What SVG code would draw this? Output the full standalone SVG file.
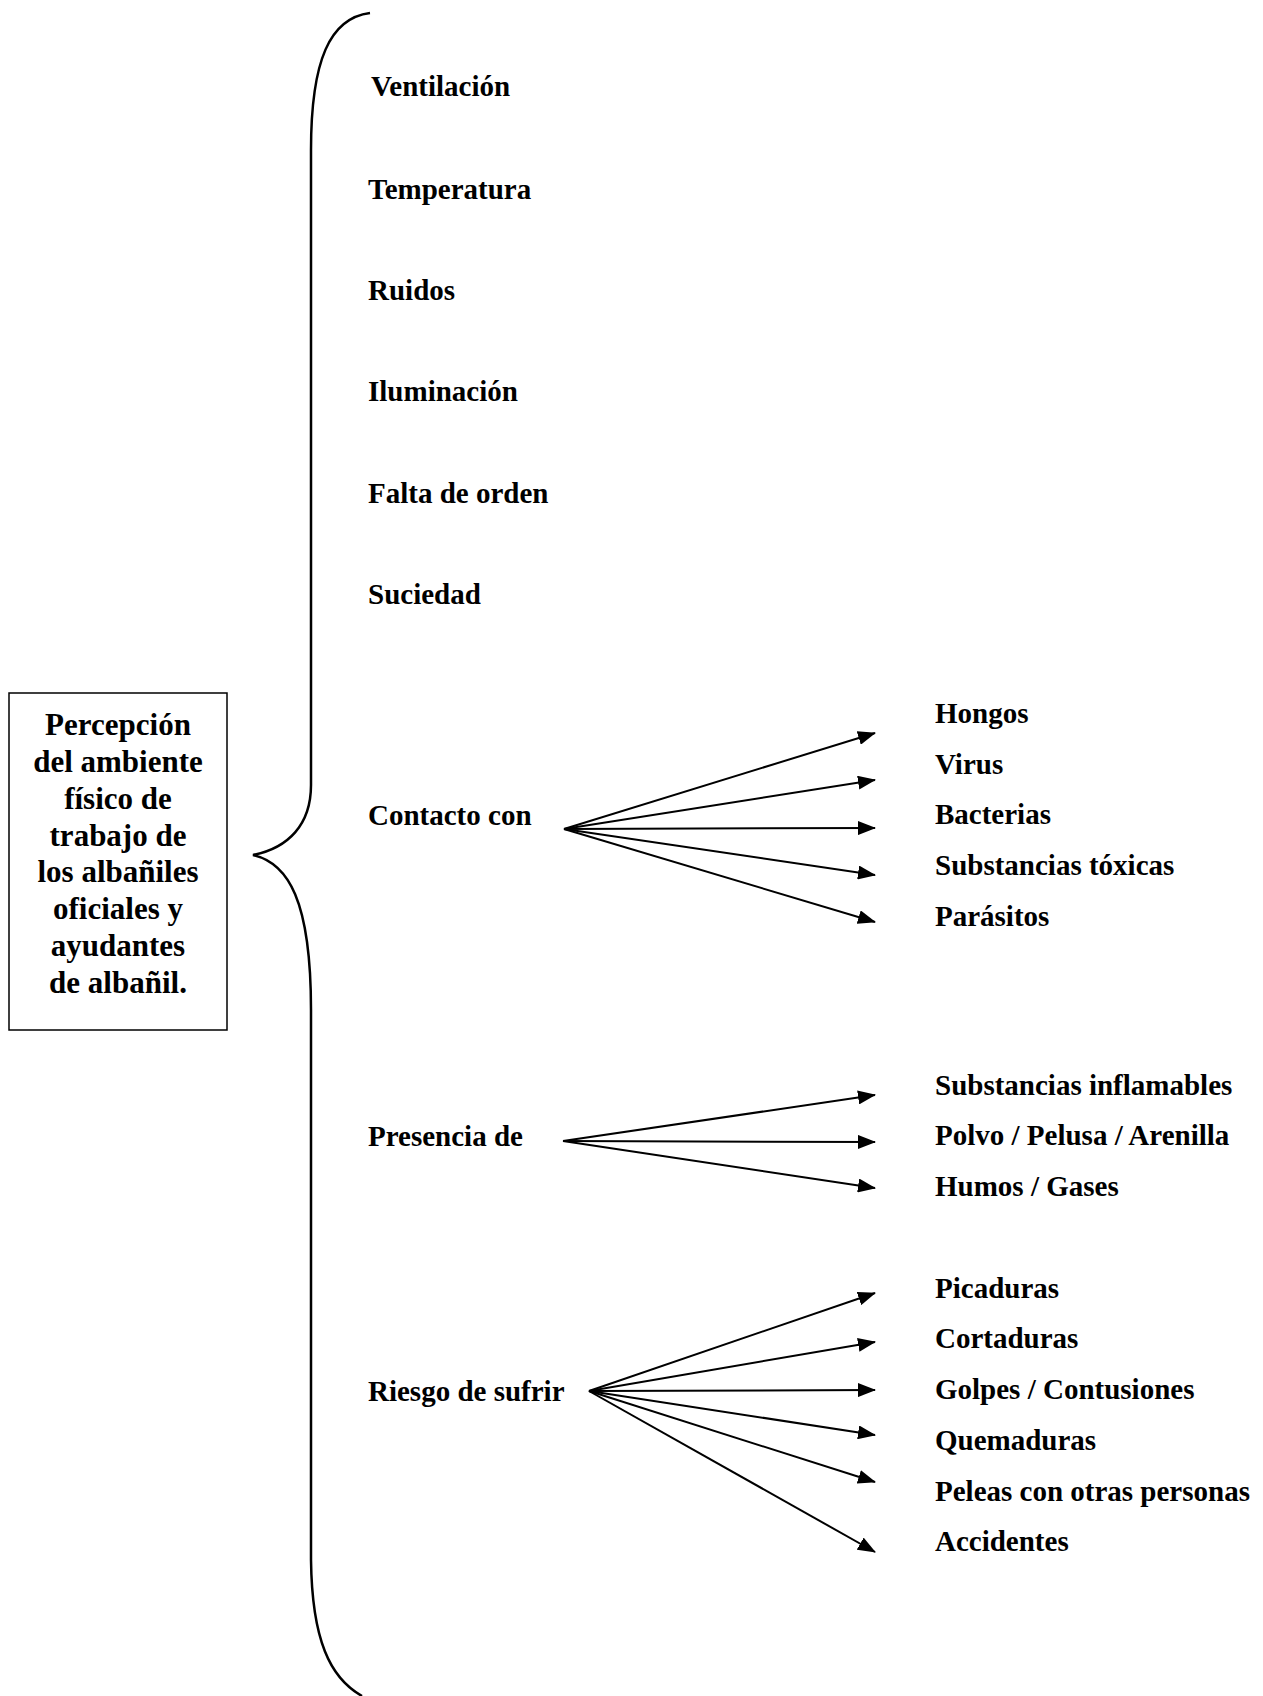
<svg xmlns="http://www.w3.org/2000/svg" width="1263" height="1696" viewBox="0 0 1263 1696">
<style>
text{font-family:"Liberation Serif","Times New Roman",serif;font-weight:bold;fill:#000}
.lbl{font-size:29px}
.box{font-size:31px;text-anchor:middle}
.conn{stroke:#000;stroke-width:2;fill:none}
.brace{stroke:#000;stroke-width:2.5;fill:none}
</style>
<defs>
<marker id="ah" markerUnits="userSpaceOnUse" markerWidth="18" markerHeight="14" refX="17" refY="7" orient="auto">
<path d="M0,0 L18,7 L0,14 Z" fill="#000"/>
</marker>
</defs>
<rect width="1263" height="1696" fill="#fff"/>
<g id="root">
<rect x="9" y="693" width="218" height="337" fill="#fff" stroke="#000" stroke-width="1.5"/>
<text class="box" x="118" y="735">Percepción</text>
<text class="box" x="118" y="772">del ambiente</text>
<text class="box" x="118" y="809">físico de</text>
<text class="box" x="118" y="846">trabajo de</text>
<text class="box" x="118" y="882">los albañiles</text>
<text class="box" x="118" y="919">oficiales y</text>
<text class="box" x="118" y="956">ayudantes</text>
<text class="box" x="118" y="993">de albañil.</text>
</g>
<g id="brace">
<path class="brace" d="M370,13 C330,18 311,60 311,150 L311,785 C311,825 288,848 253,855 C288,863 311,900 311,1010 L311,1560 C312,1640 330,1678 362,1696"/>
</g>
<g id="n-ventilacion"><text class="lbl" x="371" y="96">Ventilación</text></g>
<g id="n-temperatura"><text class="lbl" x="368" y="199">Temperatura</text></g>
<g id="n-ruidos"><text class="lbl" x="368" y="300">Ruidos</text></g>
<g id="n-iluminacion"><text class="lbl" x="368" y="401">Iluminación</text></g>
<g id="n-falta"><text class="lbl" x="368" y="503">Falta de orden</text></g>
<g id="n-suciedad"><text class="lbl" x="368" y="604">Suciedad</text></g>
<g id="n-contacto"><text class="lbl" x="368" y="825">Contacto con</text></g>
<g id="n-presencia"><text class="lbl" x="368" y="1146">Presencia de</text></g>
<g id="n-riesgo"><text class="lbl" x="368" y="1401">Riesgo de sufrir</text></g>
<g id="n-hongos"><text class="lbl" x="935" y="723">Hongos</text></g>
<g id="n-virus"><text class="lbl" x="935" y="774">Virus</text></g>
<g id="n-bacterias"><text class="lbl" x="935" y="824">Bacterias</text></g>
<g id="n-toxicas"><text class="lbl" x="935" y="875">Substancias tóxicas</text></g>
<g id="n-parasitos"><text class="lbl" x="935" y="926">Parásitos</text></g>
<g id="n-inflamables"><text class="lbl" x="935" y="1095">Substancias inflamables</text></g>
<g id="n-polvo"><text class="lbl" x="935" y="1145">Polvo / Pelusa / Arenilla</text></g>
<g id="n-humos"><text class="lbl" x="935" y="1196">Humos / Gases</text></g>
<g id="n-picaduras"><text class="lbl" x="935" y="1298">Picaduras</text></g>
<g id="n-cortaduras"><text class="lbl" x="935" y="1348">Cortaduras</text></g>
<g id="n-golpes"><text class="lbl" x="935" y="1399">Golpes / Contusiones</text></g>
<g id="n-quemaduras"><text class="lbl" x="935" y="1450">Quemaduras</text></g>
<g id="n-peleas"><text class="lbl" x="935" y="1501">Peleas con otras personas</text></g>
<g id="n-accidentes"><text class="lbl" x="935" y="1551">Accidentes</text></g>
<g id="connectors">
<line class="conn" x1="564" y1="829" x2="875" y2="733" marker-end="url(#ah)"/>
<line class="conn" x1="564" y1="829" x2="875" y2="780" marker-end="url(#ah)"/>
<line class="conn" x1="564" y1="829" x2="875" y2="828" marker-end="url(#ah)"/>
<line class="conn" x1="564" y1="829" x2="875" y2="875" marker-end="url(#ah)"/>
<line class="conn" x1="564" y1="829" x2="875" y2="922" marker-end="url(#ah)"/>
<line class="conn" x1="563" y1="1141" x2="875" y2="1095" marker-end="url(#ah)"/>
<line class="conn" x1="563" y1="1141" x2="875" y2="1142" marker-end="url(#ah)"/>
<line class="conn" x1="563" y1="1141" x2="875" y2="1188" marker-end="url(#ah)"/>
<line class="conn" x1="589" y1="1391" x2="875" y2="1293" marker-end="url(#ah)"/>
<line class="conn" x1="589" y1="1391" x2="875" y2="1342" marker-end="url(#ah)"/>
<line class="conn" x1="589" y1="1391" x2="875" y2="1390" marker-end="url(#ah)"/>
<line class="conn" x1="589" y1="1391" x2="875" y2="1435" marker-end="url(#ah)"/>
<line class="conn" x1="589" y1="1391" x2="875" y2="1482" marker-end="url(#ah)"/>
<line class="conn" x1="589" y1="1391" x2="875" y2="1552" marker-end="url(#ah)"/>
</g>
</svg>
